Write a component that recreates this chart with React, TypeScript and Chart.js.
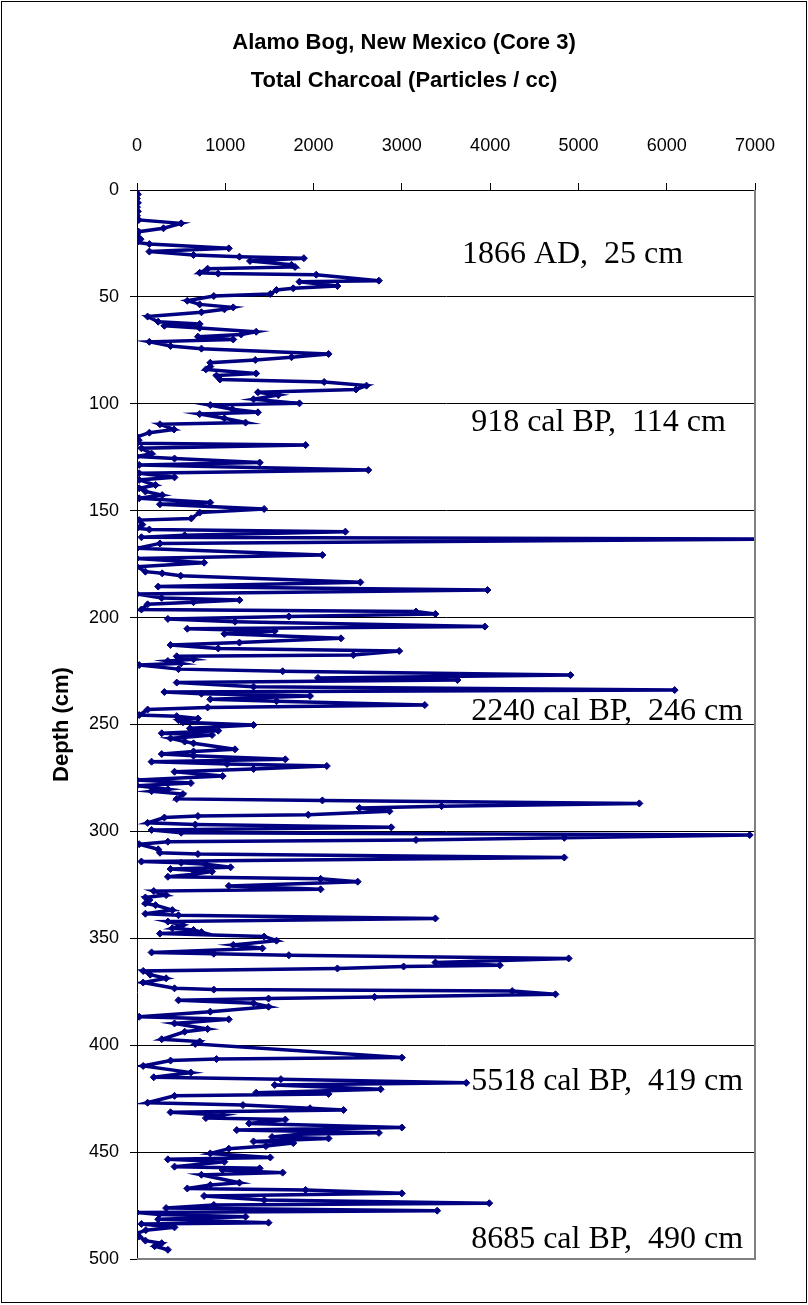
import { useEffect, useRef } from "react";
import { Chart, registerables } from "chart.js";

Chart.register(...registerables);

// Sample depth down the core (cm)
const depthCm = [
  0, 2, 4, 6, 8, 10, 12, 14, 15.6, 17.9, 19.5, 21, 23, 24.5, 25.3, 27.3, 28.8, 30.4, 31.2, 31.9,
  33.2, 35, 36, 36.8, 38.7, 39.1, 39.6, 42.4, 42.9, 44.9, 46, 46.8, 48.6, 49.6, 51.8, 53.5, 54.9, 55.8, 57.2, 59.2,
  61.6, 62.7, 63.5, 64.5, 66.3, 67.6, 68.6, 69.9, 71, 73, 74.2, 76.7, 78.2, 79.5, 80.8, 82.6, 83.9, 85.8, 86.8, 88.6,
  89.8, 91.5, 93.3, 94.6, 95.9, 97.9, 99.8, 100.6, 102.5, 104, 104.8, 106.8, 108.8, 109.6, 112, 113.5, 115.4, 117, 118.5, 119.3,
  120.8, 123.3, 124.7, 125.6, 127.5, 128.6, 131, 132.5, 134.4, 135.6, 138, 139.5, 141, 142.7, 144.2, 146.2, 147, 149.2, 150.9, 153.6,
  154.4, 156.5, 158.2, 158.8, 159.8, 161.5, 162.4, 163.3, 165.3, 167.6, 170.7, 172.3, 174.3, 176.2, 178.5, 179.3, 180.4, 183.5, 185.5, 187.1,
  189, 190.8, 191.8, 192.8, 193.8, 196.2, 197.2, 198.3, 199.5, 200.6, 201.9, 204.2, 205.2, 206.3, 207.6, 209.7, 211.7, 212.8, 214.4, 215.6,
  217.5, 218.1, 219.5, 220.3, 221.4, 222.2, 224.1, 225.1, 226.9, 228.2, 229.2, 230.4, 232.3, 233.9, 234.8, 235.6, 236.7, 238.2, 239.1, 240.9,
  242, 243, 245.6, 246.1, 247.2, 248, 249, 250.2, 251.8, 252.9, 254.1, 254.9, 256.5, 258, 258.8, 261.6, 262.6, 263.8, 264.6, 266.3,
  267.4, 268.5, 269.4, 270.8, 272.1, 274.1, 276, 277.4, 278.6, 280.3, 281.2, 282.5, 284.8, 285.5, 286.9, 288.2, 289, 290.6, 292.2, 292.8,
  293.5, 296, 296.8, 298.1, 299.3, 300.6, 301.7, 303, 304, 304.8, 306, 308.4, 310, 310.6, 312.2, 314.1, 314.7, 315.4, 316.8, 317.6,
  318.8, 320, 321.2, 322.2, 323.5, 325.5, 327.1, 327.9, 329.8, 330.9, 332.1, 333.7, 334.5, 336.8, 338.5, 339.2, 340.7, 342.2, 343.8, 345.3,
  346.1, 347.1, 347.8, 349.2, 351.1, 353.1, 354.7, 356.6, 357.2, 357.9, 359.4, 361.3, 362.6, 363.2, 364.1, 365.3, 367, 368.7, 370.7, 373.4,
  374, 374.7, 376.2, 377.4, 378.2, 379, 380.4, 382, 384.3, 386.7, 387.9, 389.8, 392.4, 393.7, 397.2, 398.3, 399.4, 405.8, 406.5, 407.2,
  409.7, 412.8, 415, 415.9, 417.6, 418.6, 420.6, 422.2, 422.8, 423.7, 426.9, 428, 429.5, 430.3, 431.4, 432.7, 434.1, 434.8, 436.6, 438.5,
  439.7, 441, 441.7, 442.9, 443.6, 445, 445.8, 447.2, 448.4, 450.6, 452.5, 453.4, 454.5, 456.8, 457.6, 458.4, 459.6, 460.6, 464.3, 465.4,
  467, 467.7, 469.3, 470.5, 472.4, 473.9, 474.7, 476.2, 477.4, 478.3, 479.2, 480.2, 481.4, 483, 483.6, 485.2, 486.5, 488, 489.5, 491.4,
  492.6, 494, 495.7,
];

// Total charcoal concentration at each depth (particles / cc)
const charcoal = [
  0, 10, 0, 10, 0, 10, 0, 20, 500, 300, 20, 0, 40, 0, 140, 1040, 140, 640, 1160, 1890,
  1280, 1750, 1790, 800, 710, 920, 2030, 2740, 1840, 2270, 1770, 1580, 1510, 870, 570, 710, 1090, 990, 730, 120,
  240, 710, 310, 710, 1350, 1180, 690, 1090, 140, 380, 730, 2170, 1750, 1340, 830, 830, 780, 1350, 900, 940,
  2120, 2600, 2480, 1370, 1600, 1320, 1840, 830, 1080, 1370, 710, 990, 1230, 260, 420, 140, 0, 20, 0, 1910,
  50, 165, 0, 425, 1390, 25, 2620, 25, 425, 25, 210, 25, 95, 285, 25, 830, 260, 1440, 710, 615,
  25, 60, 0, 140, 2360, 540, 50, 7050, 260, 0, 2100, 0, 760, 0, 95, 285, 495, 2530, 240, 3970,
  0, 280, 1160, 640, 120, 50, 3160, 3380, 1720, 350, 1110, 3940, 570, 1560, 990, 2310, 1160, 380, 920, 2970,
  2450, 450, 640, 350, 500, 25, 470, 1650, 4910, 2050, 3630, 450, 1320, 6090, 310, 730, 1960, 830, 1580, 3260,
  800, 120, 25, 450, 690, 470, 520, 1320, 600, 920, 280, 850, 380, 540, 640, 1110, 640, 280, 640, 1680,
  165, 1020, 2150, 1320, 425, 970, 0, 610, 0, 350, 165, 520, 450, 2100, 5690, 3450, 2520, 2860, 1940, 690,
  310, 120, 660, 2880, 165, 500, 6940, 4840, 3160, 350, 25, 240, 260, 690, 4840, 50, 500, 780, 1060, 380,
  850, 640, 350, 2080, 2500, 1040, 2080, 190, 330, 95, 140, 95, 210, 400, 95, 470, 3380, 350, 520, 400,
  640, 730, 260, 1440, 1580, 1090, 1420, 165, 870, 1720, 4890, 3380, 4110, 3020, 2270, 70, 150, 330, 70, 425,
  870, 4250, 4740, 2690, 1490, 470, 1320, 1490, 830, 25, 1040, 425, 800, 540, 280, 710, 660, 3000, 900, 380,
  70, 610, 190, 1630, 3730, 1560, 2760, 1350, 2170, 425, 120, 1200, 1960, 2340, 380, 970, 780, 1680, 1270, 3000,
  1130, 2740, 1840, 1530, 2170, 1320, 1770, 1460, 1040, 830, 1510, 350, 990, 425, 1390, 970, 1650, 730, 1160, 830,
  570, 1910, 3000, 760, 1440, 3990, 870, 330, 3400, 0, 250, 1230, 240, 1490, 50, 425, 100, 0, 25, 95,
  280, 200, 350,
];

const titleLines = ["Alamo Bog, New Mexico (Core 3)", "Total Charcoal (Particles / cc)"];
const axisTitle = "Depth (cm)";

// Dated horizons written beside the profile
const noteLabels = [
  "1866 AD,  25 cm",
  "918 cal BP,  114 cm",
  "2240 cal BP,  246 cm",
  "5518 cal BP,  419 cm",
  "8685 cal BP,  490 cm",
];

// Where each note sits, in axis units (left edge, vertical middle)
const NOTE_X = [3680, 3785, 3785, 3785, 3785];
const NOTE_Y = [30.4, 109, 244.1, 417.2, 491];

const NAVY = "#000080";
const SANS = '"Liberation Sans", Arial, sans-serif';
const SERIF = '"Liberation Serif", "Times New Roman", serif';

const pagePlugin = {
  id: "pageFrame",
  beforeDraw(chart: any) {
    const { ctx, width, height } = chart;
    ctx.save();
    ctx.fillStyle = "#fff";
    ctx.fillRect(0, 0, width, height);
    ctx.restore();
  },
  afterDatasetsDraw(chart: any) {
    const { ctx, scales, chartArea } = chart;
    const xs = scales.x;
    const ys = scales.y;
    ctx.save();
    ctx.font = `32px ${SERIF}`;
    ctx.fillStyle = "#000";
    ctx.textAlign = "left";
    ctx.textBaseline = "middle";
    noteLabels.forEach((t, i) => {
      ctx.fillText(t, xs.getPixelForValue(NOTE_X[i]), ys.getPixelForValue(NOTE_Y[i]));
    });
    // right and bottom edges of the plot area
    ctx.strokeStyle = "#808080";
    ctx.lineWidth = 2;
    ctx.beginPath();
    ctx.moveTo(chartArea.right, chartArea.top);
    ctx.lineTo(chartArea.right, chartArea.bottom);
    ctx.lineTo(chartArea.left, chartArea.bottom);
    ctx.stroke();
    ctx.restore();
  },
  afterDraw(chart: any) {
    const { ctx, width, height } = chart;
    ctx.save();
    ctx.strokeStyle = "#000";
    ctx.lineWidth = 1;
    ctx.strokeRect(1.5, 1.5, width - 3, height - 4);
    ctx.restore();
  },
};

export default function App() {
  const canvasRef = useRef<HTMLCanvasElement | null>(null);

  useEffect(() => {
    const canvas = canvasRef.current;
    if (!canvas) return;
    const points = depthCm.map((d, i) => ({ x: charcoal[i], y: d }));
    const chart = new Chart(canvas, {
      type: "scatter",
      data: {
        datasets: [
          {
            data: points,
            showLine: true,
            borderColor: NAVY,
            backgroundColor: NAVY,
            borderWidth: 3.5,
            tension: 0,
            pointStyle: "rectRot",
            pointRadius: 3.5,
            pointBorderWidth: 1,
            pointBackgroundColor: NAVY,
            pointBorderColor: NAVY,
          },
        ],
      },
      options: {
        responsive: false,
        animation: false,
        devicePixelRatio: 1,
        layout: { padding: { top: 0, left: 0, right: 0, bottom: 46 } },
        plugins: {
          legend: { display: false },
          tooltip: { enabled: false },
          title: {
            display: true,
            text: titleLines,
            color: "#000",
            font: { family: SANS, size: 22, weight: "bold", lineHeight: 38 / 22 },
            padding: { top: 24, bottom: 0 },
          },
        },
        scales: {
          x: {
            type: "linear",
            position: "top",
            min: 0,
            max: 7000,
            ticks: {
              stepSize: 1000,
              color: "#000",
              font: { family: SANS, size: 18 },
              padding: 26,
              maxRotation: 0,
              callback: (v: any) => String(v),
            },
            grid: { drawOnChartArea: false, drawTicks: true, tickLength: 7, color: "#000" },
            border: { display: true, color: "#000", width: 1 },
            afterFit: (s: any) => {
              s.height = 90;
            },
          },
          y: {
            type: "linear",
            reverse: true,
            min: 0,
            max: 500,
            ticks: {
              stepSize: 50,
              color: "#000",
              font: { family: SANS, size: 18 },
              padding: 11,
            },
            grid: { color: "#000", lineWidth: 1, drawTicks: true, tickLength: 7 },
            border: { display: true, color: "#000", width: 1 },
            title: {
              display: true,
              text: axisTitle,
              color: "#000",
              font: { family: SANS, size: 22, weight: "bold" },
              padding: { top: 49, bottom: 0 },
            },
            afterFit: (s: any) => {
              s.width = 137;
            },
          },
          // empty margin on the right so the titles centre on the whole figure
          margin: {
            type: "linear",
            position: "right",
            min: 0,
            max: 1,
            ticks: { display: false },
            grid: { display: false, drawTicks: false },
            border: { display: false },
            afterFit: (s: any) => {
              s.width = 53;
            },
          },
        },
      },
      plugins: [pagePlugin],
    });
    return () => chart.destroy();
  }, []);

  return (
    <div style={{ position: "fixed", left: 0, top: 0, width: 808, height: 1305, background: "#fff" }}>
      <canvas ref={canvasRef} width={808} height={1305} style={{ display: "block" }} />
    </div>
  );
}
